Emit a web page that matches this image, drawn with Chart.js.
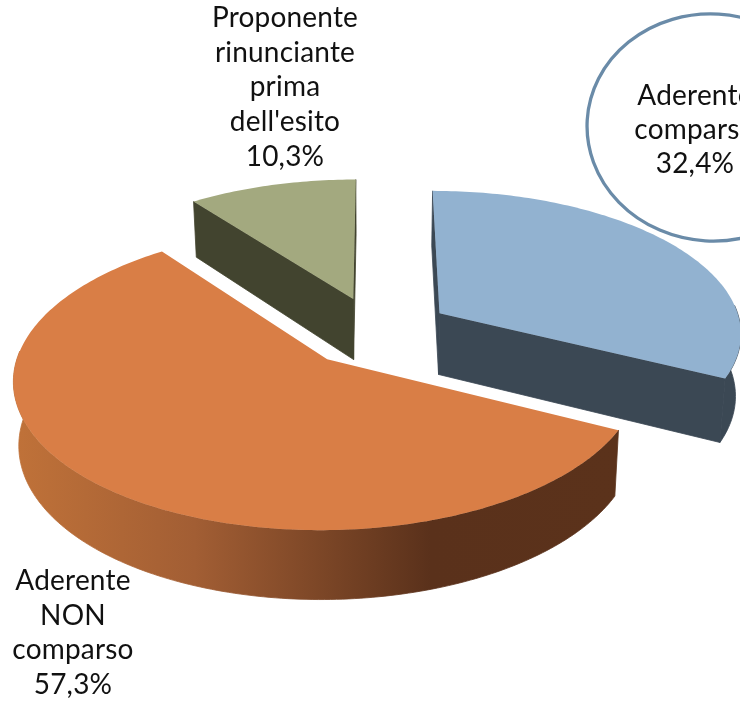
<!DOCTYPE html>
<html><head><meta charset="utf-8">
<style>html,body{margin:0;padding:0;background:#fff;overflow:hidden}canvas{display:block}</style>
<script src="https://cdn.jsdelivr.net/npm/chart.js@4"></script>
</head><body><canvas id="c" width="740" height="702"></canvas>
<script>
const categories = ['Aderente comparso','Aderente NON comparso',"Proponente rinunciante prima dell'esito"];
const values = [32.4,57.3,10.3];
const valueLabels = ['32,4%','57,3%','10,3%'];
const labelLines = [['Aderente','comparso'],['Aderente','NON','comparso'],['Proponente','rinunciante','prima',"dell'esito"]];
const topColors = ['#92b2d0','#d97e46','#a3a97f'];
const sideColors = ['#3b4854','#5b321b','#42442f'];
const TILT=0.464, PERSP=8, DEPTH=62, SHRINK=0.985, XSCALE=0.99;
const labelPos = [{x:695,y:105,step:34},{x:73,y:590,step:34.5},{x:285,y:27,step:34.7}];

function project(el,opt,angle,r,lower){
  const R=el.outerRadius, mid=(el.startAngle+el.endAngle)/2, off=opt.offset||0;
  const X=(r*Math.cos(angle)+off*Math.cos(mid))/R, Z=(r*Math.sin(angle)+off*Math.sin(mid))/R;
  const f=1/(1-Z/PERSP);
  const sx=el.x+X*R*f*XSCALE*(lower?SHRINK:1);
  const sy=el.y+Z*R*TILT*f+(lower?DEPTH*(1+0.1*Z):0);
  return [sx,sy];
}
function poly(ctx,pts,fill,seal){
  ctx.beginPath();pts.forEach((p,i)=>i?ctx.lineTo(p[0],p[1]):ctx.moveTo(p[0],p[1]));ctx.closePath();
  ctx.fillStyle=fill;ctx.fill();
  if(seal){ctx.strokeStyle=fill;ctx.lineWidth=0.8;ctx.stroke();}
}
const pie3d={id:'pie3d',
  beforeDatasetDraw(chart){
    const ctx=chart.ctx, meta=chart.getDatasetMeta(0);
    const order=[2,0,1];
    order.forEach(i=>{
      const el=meta.data[i], opt=el.options, R=el.outerRadius;
      const a0=el.startAngle,a1=el.endAngle,n=Math.ceil((a1-a0)/(Math.PI/180));
      const upper=[],wallU=[],wallL=[];
      for(let k=0;k<=n;k++){
        const a=a0+(a1-a0)*k/n;
        const u=project(el,opt,a,R,false);
        upper.push(u);
        if(Math.sin(a)>-0.06){wallU.push(u);wallL.push(project(el,opt,a,R,true));}
      }
      const cu=project(el,opt,0,0,false), cl=project(el,opt,0,0,true);
      let wall=sideColors[i];
      if(i===1){
        const g=ctx.createLinearGradient(13,0,618,0);
        g.addColorStop(0,'#c07239');g.addColorStop(0.3,'#a25e34');g.addColorStop(0.52,'#7a4526');g.addColorStop(0.69,'#5a311b');g.addColorStop(1,'#5b321b');
        wall=g;
      }
      if(a1-a0<Math.PI){
        poly(ctx,[cu,upper[0],project(el,opt,a0,R,true),cl],sideColors[i],true);
        poly(ctx,[cu,upper[n],project(el,opt,a1,R,true),cl],sideColors[i],true);
      }
      if(wallU.length>1) poly(ctx,wallU.concat(wallL.reverse()),wall,true);
      poly(ctx,[cu].concat(upper),opt.backgroundColor,false);
    });
    return false;
  },
  afterDraw(chart){
    const ctx=chart.ctx;
    ctx.save();
    ctx.beginPath();ctx.ellipse(712,127.5,125,113.5,0.06,0,Math.PI*2);
    ctx.strokeStyle='#6a8ba8';ctx.lineWidth=3.3;ctx.stroke();
    ctx.fillStyle='#111';ctx.font='28px Lato';ctx.letterSpacing='0.2px';ctx.textAlign='center';ctx.textBaseline='alphabetic';
    labelLines.forEach((lines,i)=>{
      const p=labelPos[i];
      lines.concat(valueLabels[i]).forEach((t,j)=>ctx.fillText(t,p.x,p.y+j*p.step));
    });
    ctx.restore();
  }
};
new Chart(document.getElementById('c'),{
  type:'pie',
  data:{labels:categories,datasets:[{data:values,backgroundColor:topColors,borderWidth:0,offset:76,radius:306}]},
  options:{responsive:false,animation:false,rotation:0,events:[],
    layout:{padding:{left:13,right:0,top:0,bottom:39}},
    plugins:{legend:{display:false},tooltip:{enabled:false}}},
  plugins:[pie3d]
});
</script></body></html>
